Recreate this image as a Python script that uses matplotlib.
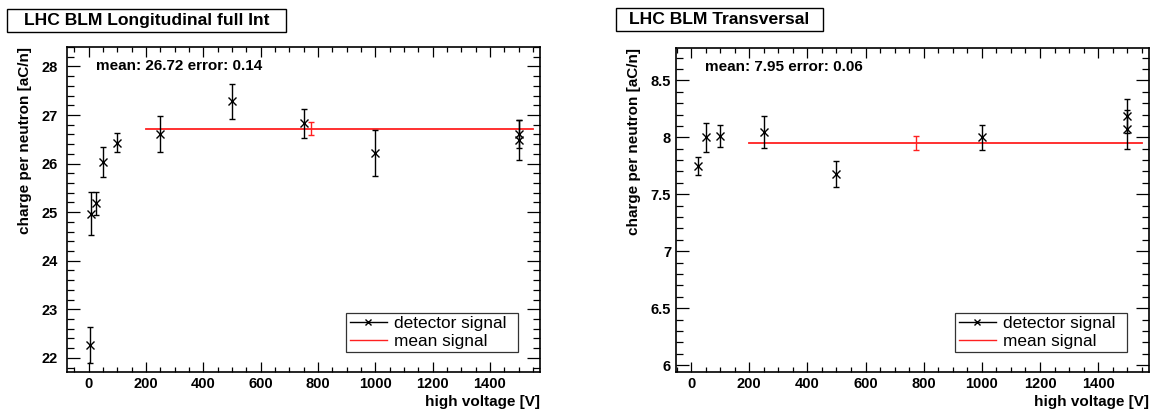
import numpy as np
import matplotlib
matplotlib.use("Agg")
import matplotlib.pyplot as plt
from matplotlib.lines import Line2D
from matplotlib.patches import Rectangle
from matplotlib.ticker import MultipleLocator, FormatStrFormatter

# data: longitudinal full integral
long_hv = [5, 10, 25, 50, 100, 250, 500, 750, 1000, 1500, 1500]
long_q = [22.27, 24.97, 25.18, 26.03, 26.43, 26.61, 27.28, 26.83, 26.22, 26.61, 26.49]
long_err = [0.37, 0.45, 0.24, 0.31, 0.20, 0.37, 0.36, 0.30, 0.48, 0.29, 0.41]
long_mean = 26.72
long_mean_err = 0.14

# data: transversal
trans_hv = [25, 50, 100, 250, 500, 1000, 1500, 1500]
trans_q = [7.75, 8.00, 8.01, 8.05, 7.68, 8.00, 8.19, 8.07]
trans_err = [0.08, 0.13, 0.095, 0.14, 0.115, 0.11, 0.15, 0.17]
trans_mean = 7.95
trans_mean_err = 0.06

fit_range = [200, 1550]
mean_x = 775

plt.rcParams['font.family'] = ['Liberation Sans', 'DejaVu Sans']

W, H = 1151, 413
fig = plt.figure(figsize=(W / 100, H / 100), dpi=100)


def px_axes(x0, x1, y0, y1):
    # pixel box (top-left origin) -> figure axes
    return fig.add_axes([x0 / W, 1 - y1 / H, (x1 - x0) / W, (y1 - y0) / H])


def title_box(x0, x1, y0, y1, txt):
    fig.patches.append(Rectangle((x0 / W, 1 - y1 / H), (x1 - x0) / W, (y1 - y0) / H,
                                 transform=fig.transFigure, facecolor='white',
                                 edgecolor='black', linewidth=1.0))
    fig.text((x0 + x1) / 2 / W, 1 - (y0 + y1) / 2 / H, txt, ha='center', va='center',
             fontsize=12.6, fontweight='bold')


def panel(ax, hv, q, err, mean, merr, xlim, ylim, ymaj, ymin, mtext, ypad):
    ax.errorbar(hv, q, yerr=err, fmt='x', color='black', ms=6, mew=1.0,
                elinewidth=1.0, capsize=2, capthick=1.0, zorder=3)
    ax.plot(fit_range, [mean, mean], color='#ff2020', lw=1.3, zorder=2)
    ax.errorbar([mean_x], [mean], yerr=[merr], fmt='none', ecolor='#ff2020',
                elinewidth=1.0, capsize=2, capthick=1.0, zorder=2)
    ax.set_xlim(*xlim)
    ax.set_ylim(*ylim)
    ax.xaxis.set_major_locator(MultipleLocator(200))
    ax.xaxis.set_minor_locator(MultipleLocator(50))
    ax.yaxis.set_major_locator(MultipleLocator(ymaj))
    ax.yaxis.set_minor_locator(MultipleLocator(ymin))
    ax.yaxis.set_major_formatter(FormatStrFormatter('%g'))
    ax.tick_params(which='both', direction='in', top=True, right=True, width=0.9,
                   labelsize=10.5)
    ax.tick_params(axis='y', which='major', length=9.5, pad=ypad)
    ax.tick_params(axis='y', which='minor', length=5)
    ax.tick_params(axis='x', which='major', length=7, pad=3.5)
    ax.tick_params(axis='x', which='minor', length=3.5)
    for lab in ax.get_xticklabels() + ax.get_yticklabels():
        lab.set_fontweight('bold')
    for s in ax.spines.values():
        s.set_linewidth(1.2)
    ax.set_xlabel('high voltage [V]', loc='right', fontsize=11, fontweight='bold')
    ax.set_ylabel('charge per neutron [aC/n]', loc='top', fontsize=11, fontweight='bold')
    ax.xaxis.set_label_coords(1.0, -0.07)
    ax.yaxis.set_label_coords(-0.074, 1.0)
    ax.text(0.062, 0.94, mtext, transform=ax.transAxes, fontsize=11,
            fontweight='bold', va='center', ha='left')
    handles = [Line2D([], [], color='black', lw=1.0, marker='x', ms=5, mew=1.0),
               Line2D([], [], color='#ff2020', lw=1.0)]
    leg = ax.legend(handles, ['detector signal', 'mean signal'], loc='center',
                    bbox_to_anchor=(0.59, 0.055, 0.364, 0.134), mode='expand',
                    fontsize=12.4, frameon=True, fancybox=False, borderpad=0.2,
                    handlelength=2.2, handletextpad=0.4, labelspacing=0.15,
                    borderaxespad=0)
    leg.get_frame().set_edgecolor('black')
    leg.get_frame().set_linewidth(0.9)


ax1 = px_axes(67, 540, 47, 372)
panel(ax1, long_hv, long_q, long_err, long_mean, long_mean_err,
      (-75, 1575), (21.71, 28.40), 1, 0.2, 'mean: 26.72 error: 0.14', 6.5)

ax2 = px_axes(676, 1149, 48, 372)
panel(ax2, trans_hv, trans_q, trans_err, trans_mean, trans_mean_err,
      (-52, 1575), (5.94, 8.784), 0.5, 0.1, 'mean: 7.95 error: 0.06', 3.6)

title_box(7, 286, 9, 32, 'LHC BLM Longitudinal full Int')
title_box(616, 823, 8, 31, 'LHC BLM Transversal')

fig.savefig('out.png', dpi=100)
